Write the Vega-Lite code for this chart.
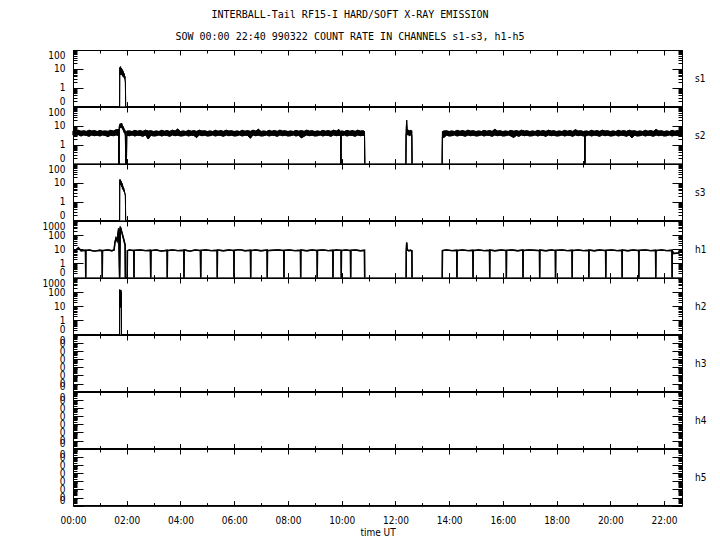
{
  "$schema": "https://vega.github.io/schema/vega-lite/v6.json",
  "background": "white",
  "padding": {"left": 41, "top": 10, "right": 5, "bottom": 5},
  "title": {"text": ["INTERBALL-Tail RF15-I HARD/SOFT X-RAY EMISSION", "SOW 00:00 22:40 990322  COUNT RATE IN CHANNELS s1-s3, h1-h5"], "font": "DejaVu Sans Mono", "fontSize": 10, "fontWeight": "normal", "lineHeight": 22, "anchor": "middle", "offset": 4, "dx": -24, "color": "black"},
  "spacing": 0,
  "bounds": "flush",
  "datasets": {
    "s1": [{"t":0,"v":0.1},{"t":1.735,"v":0.1},{"t":1.74,"v":6},{"t":1.75,"v":12},{"t":1.76,"v":5},{"t":1.77,"v":13},{"t":1.78,"v":6},{"t":1.79,"v":11},{"t":1.8,"v":5},{"t":1.81,"v":10},{"t":1.82,"v":5},{"t":1.83,"v":9},{"t":1.84,"v":4.5},{"t":1.85,"v":8},{"t":1.86,"v":4},{"t":1.87,"v":7},{"t":1.88,"v":4},{"t":1.89,"v":6},{"t":1.9,"v":3.5},{"t":1.91,"v":5},{"t":1.92,"v":3},{"t":1.93,"v":4},{"t":1.94,"v":2.5},{"t":1.95,"v":2},{"t":1.96,"v":0.1},{"t":22.667,"v":0.1}],
    "s2": [
      {"t":0.0,"lo":3.2,"hi":5.4,"g":1},{"t":0.1,"lo":3.0,"hi":5.0,"g":1},{"t":0.2,"lo":3.4,"hi":5.8,"g":1},{"t":0.3,"lo":2.9,"hi":5.2,"g":1},{"t":0.4,"lo":3.3,"hi":5.5,"g":1},{"t":0.5,"lo":3.1,"hi":5.1,"g":1},{"t":0.6,"lo":2.8,"hi":5.9,"g":1},{"t":0.7,"lo":3.3,"hi":5.3,"g":1},{"t":0.8,"lo":3.0,"hi":5.6,"g":1},{"t":0.9,"lo":3.2,"hi":5.0,"g":1},{"t":1.0,"lo":2.9,"hi":5.7,"g":1},{"t":1.1,"lo":3.3,"hi":5.2,"g":1},{"t":1.2,"lo":3.1,"hi":5.4,"g":1},{"t":1.3,"lo":2.7,"hi":5.1,"g":1},{"t":1.4,"lo":3.2,"hi":5.8,"g":1},{"t":1.5,"lo":3.0,"hi":5.3,"g":1},{"t":1.6,"lo":3.3,"hi":6.2,"g":1},{"t":1.7,"lo":3.1,"hi":6.5,"g":1},
      {"t":1.71,"lo":0.1,"hi":0.1,"g":1},{"t":1.72,"lo":6,"hi":9,"g":1},{"t":1.75,"lo":9,"hi":13,"g":1},{"t":1.78,"lo":8,"hi":12,"g":1},{"t":1.81,"lo":9,"hi":14,"g":1},{"t":1.84,"lo":7,"hi":10,"g":1},{"t":1.87,"lo":6,"hi":9,"g":1},{"t":1.9,"lo":4.5,"hi":7,"g":1},{"t":1.93,"lo":4,"hi":6,"g":1},{"t":1.95,"lo":3,"hi":5,"g":1},{"t":1.96,"lo":0.1,"hi":0.1,"g":1},{"t":1.99,"lo":0.1,"hi":0.1,"g":1},{"t":2.0,"lo":3.2,"hi":5.3,"g":1},
      {"t":2.1,"lo":3.0,"hi":5.4,"g":1},{"t":2.2,"lo":3.3,"hi":5.0,"g":1},{"t":2.3,"lo":2.9,"hi":5.8,"g":1},{"t":2.4,"lo":3.2,"hi":5.2,"g":1},{"t":2.5,"lo":3.1,"hi":5.6,"g":1},{"t":2.6,"lo":2.8,"hi":5.1,"g":1},{"t":2.7,"lo":3.3,"hi":5.9,"g":1},{"t":2.8,"lo":2.0,"hi":5.3,"g":1},{"t":2.9,"lo":3.2,"hi":5.5,"g":1},{"t":3.0,"lo":2.9,"hi":5.0,"g":1},
      {"t":3.1,"lo":3.0,"hi":5.4,"g":1},{"t":3.2,"lo":3.3,"hi":5.0,"g":1},{"t":3.3,"lo":2.9,"hi":5.8,"g":1},{"t":3.4,"lo":3.2,"hi":5.2,"g":1},{"t":3.5,"lo":3.1,"hi":5.6,"g":1},{"t":3.6,"lo":2.8,"hi":5.1,"g":1},{"t":3.7,"lo":3.3,"hi":5.9,"g":1},{"t":3.8,"lo":3.0,"hi":5.3,"g":1},{"t":3.9,"lo":3.2,"hi":6.8,"g":1},{"t":4.0,"lo":2.9,"hi":5.0,"g":1},
      {"t":4.1,"lo":3.0,"hi":5.4,"g":1},{"t":4.2,"lo":3.3,"hi":5.0,"g":1},{"t":4.3,"lo":2.9,"hi":5.8,"g":1},{"t":4.4,"lo":3.2,"hi":5.2,"g":1},{"t":4.5,"lo":3.1,"hi":5.6,"g":1},{"t":4.6,"lo":2.4,"hi":5.1,"g":1},{"t":4.7,"lo":3.3,"hi":5.9,"g":1},{"t":4.8,"lo":3.0,"hi":5.3,"g":1},{"t":4.9,"lo":3.2,"hi":5.5,"g":1},{"t":5.0,"lo":2.9,"hi":5.0,"g":1},
      {"t":5.1,"lo":3.0,"hi":5.4,"g":1},{"t":5.2,"lo":3.3,"hi":5.0,"g":1},{"t":5.3,"lo":2.9,"hi":5.8,"g":1},{"t":5.4,"lo":3.2,"hi":5.2,"g":1},{"t":5.5,"lo":3.1,"hi":5.6,"g":1},{"t":5.6,"lo":2.8,"hi":5.1,"g":1},{"t":5.7,"lo":3.3,"hi":5.9,"g":1},{"t":5.8,"lo":3.0,"hi":5.3,"g":1},{"t":5.9,"lo":3.2,"hi":5.5,"g":1},{"t":6.0,"lo":2.9,"hi":5.0,"g":1},
      {"t":6.1,"lo":3.0,"hi":5.4,"g":1},{"t":6.2,"lo":3.3,"hi":5.0,"g":1},{"t":6.3,"lo":2.9,"hi":5.8,"g":1},{"t":6.4,"lo":3.2,"hi":5.2,"g":1},{"t":6.5,"lo":3.1,"hi":5.6,"g":1},{"t":6.6,"lo":2.2,"hi":5.1,"g":1},{"t":6.7,"lo":3.3,"hi":5.9,"g":1},{"t":6.8,"lo":3.0,"hi":5.3,"g":1},{"t":6.9,"lo":3.2,"hi":6.6,"g":1},{"t":7.0,"lo":2.9,"hi":5.0,"g":1},
      {"t":7.1,"lo":3.0,"hi":5.4,"g":1},{"t":7.2,"lo":3.3,"hi":5.0,"g":1},{"t":7.3,"lo":2.9,"hi":5.8,"g":1},{"t":7.4,"lo":3.2,"hi":5.2,"g":1},{"t":7.5,"lo":3.1,"hi":5.6,"g":1},{"t":7.6,"lo":2.8,"hi":5.1,"g":1},{"t":7.7,"lo":3.3,"hi":5.9,"g":1},{"t":7.8,"lo":3.0,"hi":5.3,"g":1},{"t":7.9,"lo":3.2,"hi":5.5,"g":1},{"t":8.0,"lo":2.9,"hi":5.0,"g":1},
      {"t":8.1,"lo":3.0,"hi":5.4,"g":1},{"t":8.2,"lo":3.3,"hi":5.0,"g":1},{"t":8.3,"lo":2.9,"hi":5.8,"g":1},{"t":8.4,"lo":3.2,"hi":5.2,"g":1},{"t":8.5,"lo":2.3,"hi":5.6,"g":1},{"t":8.6,"lo":2.8,"hi":5.1,"g":1},{"t":8.7,"lo":3.3,"hi":5.9,"g":1},{"t":8.8,"lo":3.0,"hi":5.3,"g":1},{"t":8.9,"lo":3.2,"hi":5.5,"g":1},{"t":9.0,"lo":2.9,"hi":5.0,"g":1},
      {"t":9.1,"lo":3.0,"hi":5.4,"g":1},{"t":9.2,"lo":3.3,"hi":5.0,"g":1},{"t":9.3,"lo":2.9,"hi":5.8,"g":1},{"t":9.4,"lo":3.2,"hi":5.2,"g":1},{"t":9.5,"lo":3.1,"hi":5.6,"g":1},{"t":9.6,"lo":2.8,"hi":5.1,"g":1},{"t":9.7,"lo":3.3,"hi":5.9,"g":1},{"t":9.8,"lo":3.0,"hi":5.3,"g":1},{"t":9.9,"lo":3.2,"hi":6.4,"g":1},{"t":9.96,"lo":2.9,"hi":5.0,"g":1},{"t":9.97,"lo":0.1,"hi":0.1,"g":1},{"t":9.98,"lo":3.1,"hi":5.2,"g":1},
      {"t":10.0,"lo":3.0,"hi":5.4,"g":1},{"t":10.1,"lo":3.3,"hi":5.0,"g":1},{"t":10.2,"lo":2.9,"hi":5.8,"g":1},{"t":10.3,"lo":3.2,"hi":5.2,"g":1},{"t":10.4,"lo":3.1,"hi":5.6,"g":1},{"t":10.5,"lo":2.8,"hi":5.1,"g":1},{"t":10.6,"lo":3.3,"hi":5.9,"g":1},{"t":10.7,"lo":3.0,"hi":5.3,"g":1},{"t":10.8,"lo":3.2,"hi":5.5,"g":1},{"t":10.85,"lo":2.9,"hi":5.0,"g":1},{"t":10.86,"lo":0.1,"hi":0.1,"g":1},
      {"t":12.39,"lo":0.1,"hi":0.1,"g":2},{"t":12.4,"lo":3.5,"hi":6,"g":2},{"t":12.42,"lo":5,"hi":20,"g":2},{"t":12.44,"lo":3.5,"hi":7,"g":2},{"t":12.47,"lo":3.2,"hi":5.5,"g":2},{"t":12.5,"lo":3.4,"hi":6,"g":2},{"t":12.53,"lo":3.0,"hi":5.2,"g":2},{"t":12.56,"lo":3.3,"hi":5.8,"g":2},{"t":12.59,"lo":3.1,"hi":5.4,"g":2},{"t":12.61,"lo":3.2,"hi":5.6,"g":2},{"t":12.62,"lo":0.1,"hi":0.1,"g":2},
      {"t":13.74,"lo":0.1,"hi":0.1,"g":3},{"t":13.75,"lo":2.5,"hi":5.0,"g":3},{"t":13.8,"lo":2.4,"hi":5.3,"g":3},{"t":13.9,"lo":3.2,"hi":5.5,"g":3},{"t":14.0,"lo":2.9,"hi":5.0,"g":3},
      {"t":14.1,"lo":3.0,"hi":5.4,"g":3},{"t":14.2,"lo":3.3,"hi":5.0,"g":3},{"t":14.3,"lo":2.9,"hi":5.8,"g":3},{"t":14.4,"lo":3.2,"hi":5.2,"g":3},{"t":14.5,"lo":3.1,"hi":5.6,"g":3},{"t":14.6,"lo":2.8,"hi":5.1,"g":3},{"t":14.7,"lo":3.3,"hi":5.9,"g":3},{"t":14.8,"lo":3.0,"hi":5.3,"g":3},{"t":14.9,"lo":3.2,"hi":5.5,"g":3},{"t":15.0,"lo":2.9,"hi":5.0,"g":3},
      {"t":15.1,"lo":3.0,"hi":5.4,"g":3},{"t":15.2,"lo":3.3,"hi":5.0,"g":3},{"t":15.3,"lo":2.9,"hi":5.8,"g":3},{"t":15.4,"lo":3.2,"hi":5.2,"g":3},{"t":15.5,"lo":3.1,"hi":5.6,"g":3},{"t":15.6,"lo":2.8,"hi":5.1,"g":3},{"t":15.7,"lo":3.3,"hi":6.6,"g":3},{"t":15.8,"lo":3.0,"hi":5.3,"g":3},{"t":15.9,"lo":3.2,"hi":5.5,"g":3},{"t":16.0,"lo":2.9,"hi":5.0,"g":3},
      {"t":16.1,"lo":3.0,"hi":5.4,"g":3},{"t":16.2,"lo":3.3,"hi":5.0,"g":3},{"t":16.3,"lo":2.9,"hi":5.8,"g":3},{"t":16.4,"lo":2.4,"hi":5.2,"g":3},{"t":16.5,"lo":3.1,"hi":5.6,"g":3},{"t":16.6,"lo":2.8,"hi":5.1,"g":3},{"t":16.7,"lo":3.3,"hi":5.9,"g":3},{"t":16.8,"lo":3.0,"hi":5.3,"g":3},{"t":16.9,"lo":3.2,"hi":5.5,"g":3},{"t":17.0,"lo":2.9,"hi":5.0,"g":3},
      {"t":17.1,"lo":3.0,"hi":5.4,"g":3},{"t":17.2,"lo":3.3,"hi":5.0,"g":3},{"t":17.3,"lo":2.9,"hi":5.8,"g":3},{"t":17.4,"lo":3.2,"hi":5.2,"g":3},{"t":17.5,"lo":3.1,"hi":5.6,"g":3},{"t":17.6,"lo":2.8,"hi":5.1,"g":3},{"t":17.7,"lo":3.3,"hi":5.9,"g":3},{"t":17.8,"lo":3.0,"hi":5.3,"g":3},{"t":17.9,"lo":3.2,"hi":5.5,"g":3},{"t":18.0,"lo":2.9,"hi":5.0,"g":3},
      {"t":18.1,"lo":3.0,"hi":5.4,"g":3},{"t":18.2,"lo":3.3,"hi":5.0,"g":3},{"t":18.3,"lo":2.9,"hi":5.8,"g":3},{"t":18.4,"lo":3.2,"hi":5.2,"g":3},{"t":18.5,"lo":3.1,"hi":5.6,"g":3},{"t":18.6,"lo":2.8,"hi":5.1,"g":3},{"t":18.7,"lo":3.3,"hi":6.3,"g":3},{"t":18.8,"lo":3.0,"hi":5.3,"g":3},{"t":18.9,"lo":3.2,"hi":5.5,"g":3},{"t":19.0,"lo":2.9,"hi":5.0,"g":3},{"t":19.04,"lo":3.1,"hi":5.3,"g":3},{"t":19.05,"lo":0.1,"hi":0.1,"g":3},{"t":19.06,"lo":3.0,"hi":5.2,"g":3},
      {"t":19.1,"lo":3.0,"hi":5.4,"g":3},{"t":19.2,"lo":3.3,"hi":5.0,"g":3},{"t":19.3,"lo":2.9,"hi":5.8,"g":3},{"t":19.4,"lo":3.2,"hi":5.2,"g":3},{"t":19.5,"lo":3.1,"hi":5.6,"g":3},{"t":19.6,"lo":2.8,"hi":5.1,"g":3},{"t":19.7,"lo":3.3,"hi":5.9,"g":3},{"t":19.8,"lo":3.0,"hi":5.3,"g":3},{"t":19.9,"lo":3.2,"hi":5.5,"g":3},{"t":20.0,"lo":2.9,"hi":5.0,"g":3},
      {"t":20.1,"lo":3.0,"hi":5.4,"g":3},{"t":20.2,"lo":3.3,"hi":5.0,"g":3},{"t":20.3,"lo":2.9,"hi":5.8,"g":3},{"t":20.4,"lo":3.2,"hi":5.2,"g":3},{"t":20.5,"lo":3.1,"hi":5.6,"g":3},{"t":20.6,"lo":2.8,"hi":5.1,"g":3},{"t":20.7,"lo":3.3,"hi":5.9,"g":3},{"t":20.8,"lo":2.3,"hi":5.3,"g":3},{"t":20.9,"lo":3.2,"hi":5.5,"g":3},{"t":21.0,"lo":2.9,"hi":5.0,"g":3},
      {"t":21.1,"lo":3.0,"hi":5.4,"g":3},{"t":21.2,"lo":3.3,"hi":5.0,"g":3},{"t":21.3,"lo":2.9,"hi":5.8,"g":3},{"t":21.4,"lo":3.2,"hi":5.2,"g":3},{"t":21.5,"lo":3.1,"hi":5.6,"g":3},{"t":21.6,"lo":2.8,"hi":5.1,"g":3},{"t":21.7,"lo":3.3,"hi":6.5,"g":3},{"t":21.8,"lo":3.0,"hi":5.3,"g":3},{"t":21.9,"lo":3.2,"hi":5.5,"g":3},{"t":22.0,"lo":2.9,"hi":5.0,"g":3},
      {"t":22.1,"lo":3.0,"hi":5.4,"g":3},{"t":22.2,"lo":3.3,"hi":5.0,"g":3},{"t":22.3,"lo":2.9,"hi":5.8,"g":3},{"t":22.4,"lo":3.2,"hi":5.2,"g":3},{"t":22.5,"lo":3.1,"hi":5.6,"g":3},{"t":22.6,"lo":2.8,"hi":5.1,"g":3},{"t":22.667,"lo":3.2,"hi":5.6,"g":3}
    ],
    "s3": [{"t":0,"v":0.1},{"t":1.735,"v":0.1},{"t":1.74,"v":10},{"t":1.75,"v":15},{"t":1.76,"v":9},{"t":1.77,"v":14},{"t":1.78,"v":8},{"t":1.79,"v":12},{"t":1.8,"v":7},{"t":1.81,"v":10},{"t":1.82,"v":6},{"t":1.83,"v":9},{"t":1.84,"v":5},{"t":1.85,"v":7},{"t":1.86,"v":4.5},{"t":1.87,"v":6},{"t":1.88,"v":4},{"t":1.89,"v":5},{"t":1.9,"v":3.5},{"t":1.91,"v":4},{"t":1.92,"v":3},{"t":1.93,"v":3},{"t":1.94,"v":2.5},{"t":1.95,"v":2},{"t":1.96,"v":0.1},{"t":22.667,"v":0.1}],
    "h1": [
      {"t":0.0,"v":8,"g":1},{"t":0.1,"v":8.5,"g":1},{"t":0.2,"v":13,"g":1},{"t":0.3,"v":8,"g":1},{"t":0.466,"v":8.5,"g":1},{"t":0.473,"v":0.1,"g":1},{"t":0.48,"v":8,"g":1},{"t":0.6,"v":9,"g":1},{"t":0.8,"v":7.5,"g":1},{"t":1.0,"v":8.5,"g":1},{"t":1.083,"v":8,"g":1},{"t":1.09,"v":0.1,"g":1},{"t":1.097,"v":8,"g":1},{"t":1.3,"v":9,"g":1},{"t":1.45,"v":8,"g":1},{"t":1.53,"v":9,"g":1},{"t":1.56,"v":30,"g":1},{"t":1.6,"v":60,"g":1},{"t":1.64,"v":40,"g":1},{"t":1.67,"v":110,"g":1},{"t":1.7,"v":300,"g":1},{"t":1.735,"v":0.1,"g":1},{"t":1.76,"v":400,"g":1},{"t":1.79,"v":250,"g":1},{"t":1.82,"v":150,"g":1},{"t":1.86,"v":80,"g":1},{"t":1.9,"v":40,"g":1},{"t":1.94,"v":20,"g":1},{"t":1.95,"v":0.1,"g":1},{"t":2.02,"v":0.1,"g":1},{"t":2.025,"v":8,"g":1},{"t":2.1,"v":9,"g":1},{"t":2.263,"v":8,"g":1},{"t":2.27,"v":0.1,"g":1},{"t":2.277,"v":8.5,"g":1},{"t":2.5,"v":9,"g":1},{"t":2.7,"v":8,"g":1},{"t":2.882,"v":8.5,"g":1},{"t":2.892,"v":0.1,"g":1},{"t":2.902,"v":8,"g":1},{"t":3.1,"v":9,"g":1},{"t":3.3,"v":7.5,"g":1},{"t":3.502,"v":8.5,"g":1},{"t":3.509,"v":0.1,"g":1},{"t":3.516,"v":8,"g":1},{"t":3.7,"v":9,"g":1},{"t":3.9,"v":8,"g":1},{"t":4.124,"v":8.5,"g":1},{"t":4.131,"v":0.1,"g":1},{"t":4.138,"v":9,"g":1},{"t":4.35,"v":7.5,"g":1},{"t":4.55,"v":9,"g":1},{"t":4.743,"v":8,"g":1},{"t":4.753,"v":0.1,"g":1},{"t":4.763,"v":8.5,"g":1},{"t":4.95,"v":9,"g":1},{"t":5.15,"v":8,"g":1},{"t":5.363,"v":8.5,"g":1},{"t":5.37,"v":0.1,"g":1},{"t":5.377,"v":9,"g":1},{"t":5.6,"v":8,"g":1},{"t":5.8,"v":9,"g":1},{"t":5.985,"v":8,"g":1},{"t":5.992,"v":0.1,"g":1},{"t":5.999,"v":8.5,"g":1},{"t":6.2,"v":9.5,"g":1},{"t":6.4,"v":8,"g":1},{"t":6.606,"v":8.5,"g":1},{"t":6.613,"v":0.1,"g":1},{"t":6.62,"v":8,"g":1},{"t":6.8,"v":9,"g":1},{"t":7.0,"v":8,"g":1},{"t":7.224,"v":9,"g":1},{"t":7.231,"v":0.1,"g":1},{"t":7.238,"v":8,"g":1},{"t":7.45,"v":8.5,"g":1},{"t":7.65,"v":9,"g":1},{"t":7.845,"v":8,"g":1},{"t":7.852,"v":0.1,"g":1},{"t":7.859,"v":8.5,"g":1},{"t":8.05,"v":9,"g":1},{"t":8.25,"v":8,"g":1},{"t":8.467,"v":8.5,"g":1},{"t":8.474,"v":0.1,"g":1},{"t":8.481,"v":9,"g":1},{"t":8.7,"v":8,"g":1},{"t":8.9,"v":9,"g":1},{"t":9.085,"v":8,"g":1},{"t":9.092,"v":0.1,"g":1},{"t":9.099,"v":8.5,"g":1},{"t":9.3,"v":9,"g":1},{"t":9.5,"v":8,"g":1},{"t":9.669,"v":8.5,"g":1},{"t":9.676,"v":0.1,"g":1},{"t":9.683,"v":8,"g":1},{"t":9.8,"v":9,"g":1},{"t":9.978,"v":8.5,"g":1},{"t":9.985,"v":0.1,"g":1},{"t":9.992,"v":8,"g":1},{"t":10.15,"v":9,"g":1},{"t":10.328,"v":8,"g":1},{"t":10.335,"v":0.1,"g":1},{"t":10.342,"v":8.5,"g":1},{"t":10.5,"v":9,"g":1},{"t":10.7,"v":8,"g":1},{"t":10.849,"v":8.5,"g":1},{"t":10.856,"v":0.1,"g":1},
      {"t":12.4,"v":0.1,"g":2},{"t":12.405,"v":8,"g":2},{"t":12.42,"v":30,"g":2},{"t":12.44,"v":9,"g":2},{"t":12.5,"v":8,"g":2},{"t":12.56,"v":8.5,"g":2},{"t":12.613,"v":8,"g":2},{"t":12.62,"v":0.1,"g":2},
      {"t":13.744,"v":0.1,"g":3},{"t":13.751,"v":8,"g":3},{"t":13.9,"v":9,"g":3},{"t":14.1,"v":8,"g":3},{"t":14.283,"v":8.5,"g":3},{"t":14.29,"v":0.1,"g":3},{"t":14.297,"v":8,"g":3},{"t":14.5,"v":9,"g":3},{"t":14.7,"v":8,"g":3},{"t":14.883,"v":8.5,"g":3},{"t":14.89,"v":0.1,"g":3},{"t":14.897,"v":8,"g":3},{"t":15.1,"v":9,"g":3},{"t":15.3,"v":8,"g":3},{"t":15.503,"v":8.5,"g":3},{"t":15.51,"v":0.1,"g":3},{"t":15.517,"v":9,"g":3},{"t":15.7,"v":8,"g":3},{"t":15.95,"v":9,"g":3},{"t":16.123,"v":8,"g":3},{"t":16.13,"v":0.1,"g":3},{"t":16.137,"v":8.5,"g":3},{"t":16.35,"v":9,"g":3},{"t":16.55,"v":8,"g":3},{"t":16.743,"v":9,"g":3},{"t":16.75,"v":0.1,"g":3},{"t":16.757,"v":8,"g":3},{"t":16.95,"v":9,"g":3},{"t":17.15,"v":8.5,"g":3},{"t":17.363,"v":8,"g":3},{"t":17.37,"v":0.1,"g":3},{"t":17.377,"v":9,"g":3},{"t":17.6,"v":8,"g":3},{"t":17.8,"v":9,"g":3},{"t":17.953,"v":8,"g":3},{"t":17.96,"v":0.1,"g":3},{"t":17.967,"v":8.5,"g":3},{"t":18.2,"v":9,"g":3},{"t":18.4,"v":8,"g":3},{"t":18.573,"v":8.5,"g":3},{"t":18.58,"v":0.1,"g":3},{"t":18.587,"v":8,"g":3},{"t":18.8,"v":9,"g":3},{"t":19.0,"v":8,"g":3},{"t":19.193,"v":8.5,"g":3},{"t":19.2,"v":0.1,"g":3},{"t":19.207,"v":9,"g":3},{"t":19.4,"v":8,"g":3},{"t":19.6,"v":9,"g":3},{"t":19.823,"v":8,"g":3},{"t":19.83,"v":0.1,"g":3},{"t":19.837,"v":8.5,"g":3},{"t":20.05,"v":9,"g":3},{"t":20.25,"v":8,"g":3},{"t":20.433,"v":8.5,"g":3},{"t":20.44,"v":0.1,"g":3},{"t":20.447,"v":9,"g":3},{"t":20.65,"v":8,"g":3},{"t":20.85,"v":9,"g":3},{"t":21.053,"v":8,"g":3},{"t":21.06,"v":0.1,"g":3},{"t":21.067,"v":8.5,"g":3},{"t":21.3,"v":9,"g":3},{"t":21.5,"v":8,"g":3},{"t":21.683,"v":8.5,"g":3},{"t":21.69,"v":0.1,"g":3},{"t":21.697,"v":8,"g":3},{"t":21.9,"v":9,"g":3},{"t":22.1,"v":8,"g":3},{"t":22.293,"v":8.5,"g":3},{"t":22.3,"v":0.1,"g":3},{"t":22.307,"v":8,"g":3},{"t":22.35,"v":5,"g":3},{"t":22.55,"v":5.5,"g":3},{"t":22.6,"v":8,"g":3},{"t":22.667,"v":8.5,"g":3}
    ],
    "h2": [{"t":0,"v":0.1},{"t":1.735,"v":0.1},{"t":1.74,"v":150},{"t":1.75,"v":10},{"t":1.76,"v":120},{"t":1.77,"v":12},{"t":1.78,"v":140},{"t":1.79,"v":8},{"t":1.8,"v":100},{"t":1.805,"v":0.1},{"t":22.667,"v":0.1}],
    "h3": [{"t":0,"v":0.1},{"t":22.667,"v":0.1}],
    "h4": [{"t":0,"v":0.1},{"t":22.667,"v":0.1}],
    "h5": [{"t":0,"v":0.1},{"t":22.667,"v":0.1}]
  },
  "vconcat": [
    {"width": 609, "height": 56.6, "data": {"name": "s1"},
     "layer": [
      {"mark": {"type": "line", "color": "black", "strokeWidth": 1},
       "encoding": {
        "x": {"field": "t", "type": "quantitative", "scale": {"domain": [0, 22.667], "nice": false, "zero": false}, "axis": {"orient": "bottom", "values": [0,1,2,3,4,5,6,7,8,9,10,11,12,13,14,15,16,17,18,19,20,21,22], "labels": false, "title": null, "tickSize": {"condition": {"test": "datum.value % 2 == 0", "value": -5}, "value": -3}}},
        "y": {"field": "v", "type": "quantitative", "scale": {"type": "log", "domain": [0.1, 100], "nice": false}, "axis": {"orient": "left", "title": null, "values": [0.1,0.2,0.3,0.4,0.5,0.6,0.7,0.8,0.9,1,2,3,4,5,6,7,8,9,10,20,30,40,50,60,70,80,90,100], "labelFlush": true, "labelPadding": 18, "labelExpr": "abs(log(datum.value)/LN10 - round(log(datum.value)/LN10)) < 0.01 ? (datum.value < 0.5 ? '0' : format(datum.value, 'd')) : ''", "tickSize": {"condition": {"test": "abs(log(datum.value)/LN10 - round(log(datum.value)/LN10)) < 0.01", "value": -10}, "value": -4}}}
       }},
      {"mark": {"type": "line", "color": "black", "strokeWidth": 1},
       "encoding": {
        "x": {"field": "t", "type": "quantitative", "axis": {"orient": "top", "values": [0,1,2,3,4,5,6,7,8,9,10,11,12,13,14,15,16,17,18,19,20,21,22], "labels": false, "title": null, "tickSize": {"condition": {"test": "datum.value % 2 == 0", "value": -5}, "value": -3}}},
        "y": {"field": "v", "type": "quantitative", "axis": {"orient": "right", "values": [0.1,0.2,0.3,0.4,0.5,0.6,0.7,0.8,0.9,1,2,3,4,5,6,7,8,9,10,20,30,40,50,60,70,80,90,100], "labels": false, "title": "s1", "titleAngle": 0, "titleAlign": "left", "titleBaseline": "middle", "titlePadding": 12, "tickSize": {"condition": {"test": "abs(log(datum.value)/LN10 - round(log(datum.value)/LN10)) < 0.01", "value": -10}, "value": -4}}}
       }}
     ],
     "resolve": {"axis": {"x": "independent", "y": "independent"}}
    },
    {"width": 609, "height": 56.6, "data": {"name": "s2"},
     "layer": [
      {"mark": {"type": "area", "color": "black", "stroke": "black", "strokeWidth": 0.8},
       "encoding": {
        "x": {"field": "t", "type": "quantitative", "scale": {"domain": [0, 22.667], "nice": false, "zero": false}, "axis": {"orient": "bottom", "values": [0,1,2,3,4,5,6,7,8,9,10,11,12,13,14,15,16,17,18,19,20,21,22], "labels": false, "title": null, "tickSize": {"condition": {"test": "datum.value % 2 == 0", "value": -5}, "value": -3}}},
        "y": {"field": "hi", "type": "quantitative", "scale": {"type": "log", "domain": [0.1, 100], "nice": false}, "axis": {"orient": "left", "title": null, "values": [0.1,0.2,0.3,0.4,0.5,0.6,0.7,0.8,0.9,1,2,3,4,5,6,7,8,9,10,20,30,40,50,60,70,80,90,100], "labelFlush": true, "labelPadding": 18, "labelExpr": "abs(log(datum.value)/LN10 - round(log(datum.value)/LN10)) < 0.01 ? (datum.value < 0.5 ? '0' : format(datum.value, 'd')) : ''", "tickSize": {"condition": {"test": "abs(log(datum.value)/LN10 - round(log(datum.value)/LN10)) < 0.01", "value": -10}, "value": -4}}},
        "y2": {"field": "lo"},
        "detail": {"field": "g"}
       }},
      {"mark": {"type": "area", "color": "black", "stroke": "black", "strokeWidth": 0.8},
       "encoding": {
        "x": {"field": "t", "type": "quantitative", "axis": {"orient": "top", "values": [0,1,2,3,4,5,6,7,8,9,10,11,12,13,14,15,16,17,18,19,20,21,22], "labels": false, "title": null, "tickSize": {"condition": {"test": "datum.value % 2 == 0", "value": -5}, "value": -3}}},
        "y": {"field": "hi", "type": "quantitative", "axis": {"orient": "right", "values": [0.1,0.2,0.3,0.4,0.5,0.6,0.7,0.8,0.9,1,2,3,4,5,6,7,8,9,10,20,30,40,50,60,70,80,90,100], "labels": false, "title": "s2", "titleAngle": 0, "titleAlign": "left", "titleBaseline": "middle", "titlePadding": 12, "tickSize": {"condition": {"test": "abs(log(datum.value)/LN10 - round(log(datum.value)/LN10)) < 0.01", "value": -10}, "value": -4}}},
        "y2": {"field": "lo"},
        "detail": {"field": "g"}
       }}
     ],
     "resolve": {"axis": {"x": "independent", "y": "independent"}}
    },
    {"width": 609, "height": 56.6, "data": {"name": "s3"},
     "layer": [
      {"mark": {"type": "line", "color": "black", "strokeWidth": 1},
       "encoding": {
        "x": {"field": "t", "type": "quantitative", "scale": {"domain": [0, 22.667], "nice": false, "zero": false}, "axis": {"orient": "bottom", "values": [0,1,2,3,4,5,6,7,8,9,10,11,12,13,14,15,16,17,18,19,20,21,22], "labels": false, "title": null, "tickSize": {"condition": {"test": "datum.value % 2 == 0", "value": -5}, "value": -3}}},
        "y": {"field": "v", "type": "quantitative", "scale": {"type": "log", "domain": [0.1, 100], "nice": false}, "axis": {"orient": "left", "title": null, "values": [0.1,0.2,0.3,0.4,0.5,0.6,0.7,0.8,0.9,1,2,3,4,5,6,7,8,9,10,20,30,40,50,60,70,80,90,100], "labelFlush": true, "labelPadding": 18, "labelExpr": "abs(log(datum.value)/LN10 - round(log(datum.value)/LN10)) < 0.01 ? (datum.value < 0.5 ? '0' : format(datum.value, 'd')) : ''", "tickSize": {"condition": {"test": "abs(log(datum.value)/LN10 - round(log(datum.value)/LN10)) < 0.01", "value": -10}, "value": -4}}}
       }},
      {"mark": {"type": "line", "color": "black", "strokeWidth": 1},
       "encoding": {
        "x": {"field": "t", "type": "quantitative", "axis": {"orient": "top", "values": [0,1,2,3,4,5,6,7,8,9,10,11,12,13,14,15,16,17,18,19,20,21,22], "labels": false, "title": null, "tickSize": {"condition": {"test": "datum.value % 2 == 0", "value": -5}, "value": -3}}},
        "y": {"field": "v", "type": "quantitative", "axis": {"orient": "right", "values": [0.1,0.2,0.3,0.4,0.5,0.6,0.7,0.8,0.9,1,2,3,4,5,6,7,8,9,10,20,30,40,50,60,70,80,90,100], "labels": false, "title": "s3", "titleAngle": 0, "titleAlign": "left", "titleBaseline": "middle", "titlePadding": 12, "tickSize": {"condition": {"test": "abs(log(datum.value)/LN10 - round(log(datum.value)/LN10)) < 0.01", "value": -10}, "value": -4}}}
       }}
     ],
     "resolve": {"axis": {"x": "independent", "y": "independent"}}
    },
    {"width": 609, "height": 56.6, "data": {"name": "h1"},
     "layer": [
      {"mark": {"type": "line", "color": "black", "strokeWidth": 1.4},
       "encoding": {
        "x": {"field": "t", "type": "quantitative", "scale": {"domain": [0, 22.667], "nice": false, "zero": false}, "axis": {"orient": "bottom", "values": [0,1,2,3,4,5,6,7,8,9,10,11,12,13,14,15,16,17,18,19,20,21,22], "labels": false, "title": null, "tickSize": {"condition": {"test": "datum.value % 2 == 0", "value": -5}, "value": -3}}},
        "y": {"field": "v", "type": "quantitative", "scale": {"type": "log", "domain": [0.1, 1000], "nice": false}, "axis": {"orient": "left", "title": null, "values": [0.1,0.2,0.3,0.4,0.5,0.6,0.7,0.8,0.9,1,2,3,4,5,6,7,8,9,10,20,30,40,50,60,70,80,90,100,200,300,400,500,600,700,800,900,1000], "labelFlush": true, "labelPadding": 18, "labelExpr": "abs(log(datum.value)/LN10 - round(log(datum.value)/LN10)) < 0.01 ? (datum.value < 0.5 ? '0' : format(datum.value, 'd')) : ''", "tickSize": {"condition": {"test": "abs(log(datum.value)/LN10 - round(log(datum.value)/LN10)) < 0.01", "value": -10}, "value": -4}}},
        "detail": {"field": "g"}
       }},
      {"mark": {"type": "line", "color": "black", "strokeWidth": 1.4},
       "encoding": {
        "x": {"field": "t", "type": "quantitative", "axis": {"orient": "top", "values": [0,1,2,3,4,5,6,7,8,9,10,11,12,13,14,15,16,17,18,19,20,21,22], "labels": false, "title": null, "tickSize": {"condition": {"test": "datum.value % 2 == 0", "value": -5}, "value": -3}}},
        "y": {"field": "v", "type": "quantitative", "axis": {"orient": "right", "values": [0.1,0.2,0.3,0.4,0.5,0.6,0.7,0.8,0.9,1,2,3,4,5,6,7,8,9,10,20,30,40,50,60,70,80,90,100,200,300,400,500,600,700,800,900,1000], "labels": false, "title": "h1", "titleAngle": 0, "titleAlign": "left", "titleBaseline": "middle", "titlePadding": 12, "tickSize": {"condition": {"test": "abs(log(datum.value)/LN10 - round(log(datum.value)/LN10)) < 0.01", "value": -10}, "value": -4}}},
        "detail": {"field": "g"}
       }}
     ],
     "resolve": {"axis": {"x": "independent", "y": "independent"}}
    },
    {"width": 609, "height": 56.6, "data": {"name": "h2"},
     "layer": [
      {"mark": {"type": "line", "color": "black", "strokeWidth": 1},
       "encoding": {
        "x": {"field": "t", "type": "quantitative", "scale": {"domain": [0, 22.667], "nice": false, "zero": false}, "axis": {"orient": "bottom", "values": [0,1,2,3,4,5,6,7,8,9,10,11,12,13,14,15,16,17,18,19,20,21,22], "labels": false, "title": null, "tickSize": {"condition": {"test": "datum.value % 2 == 0", "value": -5}, "value": -3}}},
        "y": {"field": "v", "type": "quantitative", "scale": {"type": "log", "domain": [0.1, 1000], "nice": false}, "axis": {"orient": "left", "title": null, "values": [0.1,0.2,0.3,0.4,0.5,0.6,0.7,0.8,0.9,1,2,3,4,5,6,7,8,9,10,20,30,40,50,60,70,80,90,100,200,300,400,500,600,700,800,900,1000], "labelFlush": true, "labelPadding": 18, "labelExpr": "abs(log(datum.value)/LN10 - round(log(datum.value)/LN10)) < 0.01 ? (datum.value < 0.5 ? '0' : format(datum.value, 'd')) : ''", "tickSize": {"condition": {"test": "abs(log(datum.value)/LN10 - round(log(datum.value)/LN10)) < 0.01", "value": -10}, "value": -4}}}
       }},
      {"mark": {"type": "line", "color": "black", "strokeWidth": 1},
       "encoding": {
        "x": {"field": "t", "type": "quantitative", "axis": {"orient": "top", "values": [0,1,2,3,4,5,6,7,8,9,10,11,12,13,14,15,16,17,18,19,20,21,22], "labels": false, "title": null, "tickSize": {"condition": {"test": "datum.value % 2 == 0", "value": -5}, "value": -3}}},
        "y": {"field": "v", "type": "quantitative", "axis": {"orient": "right", "values": [0.1,0.2,0.3,0.4,0.5,0.6,0.7,0.8,0.9,1,2,3,4,5,6,7,8,9,10,20,30,40,50,60,70,80,90,100,200,300,400,500,600,700,800,900,1000], "labels": false, "title": "h2", "titleAngle": 0, "titleAlign": "left", "titleBaseline": "middle", "titlePadding": 12, "tickSize": {"condition": {"test": "abs(log(datum.value)/LN10 - round(log(datum.value)/LN10)) < 0.01", "value": -10}, "value": -4}}}
       }}
     ],
     "resolve": {"axis": {"x": "independent", "y": "independent"}}
    },
    {"width": 609, "height": 56.6, "data": {"name": "h3"},
     "layer": [
      {"mark": {"type": "line", "color": "black", "strokeWidth": 1},
       "encoding": {
        "x": {"field": "t", "type": "quantitative", "scale": {"domain": [0, 22.667], "nice": false, "zero": false}, "axis": {"orient": "bottom", "values": [0,1,2,3,4,5,6,7,8,9,10,11,12,13,14,15,16,17,18,19,20,21,22], "labels": false, "title": null, "tickSize": {"condition": {"test": "datum.value % 2 == 0", "value": -5}, "value": -3}}},
        "y": {"field": "v", "type": "quantitative", "scale": {"type": "log", "domain": [0.1, 1000000], "nice": false}, "axis": {"orient": "left", "title": null, "values": [0.1,0.2,0.3,0.4,0.5,0.6,0.7,0.8,0.9,1,2,3,4,5,6,7,8,9,10,20,30,40,50,60,70,80,90,100,200,300,400,500,600,700,800,900,1000,2000,3000,4000,5000,6000,7000,8000,9000,10000,20000,30000,40000,50000,60000,70000,80000,90000,100000,200000,300000,400000,500000,600000,700000,800000,900000,1000000], "labelFlush": true, "labelPadding": 18, "labelExpr": "abs(log(datum.value)/LN10 - round(log(datum.value)/LN10)) < 0.01 ? '0' : ''", "tickSize": {"condition": {"test": "abs(log(datum.value)/LN10 - round(log(datum.value)/LN10)) < 0.01", "value": -10}, "value": -4}}}
       }},
      {"mark": {"type": "line", "color": "black", "strokeWidth": 1},
       "encoding": {
        "x": {"field": "t", "type": "quantitative", "axis": {"orient": "top", "values": [0,1,2,3,4,5,6,7,8,9,10,11,12,13,14,15,16,17,18,19,20,21,22], "labels": false, "title": null, "tickSize": {"condition": {"test": "datum.value % 2 == 0", "value": -5}, "value": -3}}},
        "y": {"field": "v", "type": "quantitative", "axis": {"orient": "right", "values": [0.1,0.2,0.3,0.4,0.5,0.6,0.7,0.8,0.9,1,2,3,4,5,6,7,8,9,10,20,30,40,50,60,70,80,90,100,200,300,400,500,600,700,800,900,1000,2000,3000,4000,5000,6000,7000,8000,9000,10000,20000,30000,40000,50000,60000,70000,80000,90000,100000,200000,300000,400000,500000,600000,700000,800000,900000,1000000], "labels": false, "title": "h3", "titleAngle": 0, "titleAlign": "left", "titleBaseline": "middle", "titlePadding": 12, "tickSize": {"condition": {"test": "abs(log(datum.value)/LN10 - round(log(datum.value)/LN10)) < 0.01", "value": -10}, "value": -4}}}
       }}
     ],
     "resolve": {"axis": {"x": "independent", "y": "independent"}}
    },
    {"width": 609, "height": 56.6, "data": {"name": "h4"},
     "layer": [
      {"mark": {"type": "line", "color": "black", "strokeWidth": 1},
       "encoding": {
        "x": {"field": "t", "type": "quantitative", "scale": {"domain": [0, 22.667], "nice": false, "zero": false}, "axis": {"orient": "bottom", "values": [0,1,2,3,4,5,6,7,8,9,10,11,12,13,14,15,16,17,18,19,20,21,22], "labels": false, "title": null, "tickSize": {"condition": {"test": "datum.value % 2 == 0", "value": -5}, "value": -3}}},
        "y": {"field": "v", "type": "quantitative", "scale": {"type": "log", "domain": [0.1, 1000000], "nice": false}, "axis": {"orient": "left", "title": null, "values": [0.1,0.2,0.3,0.4,0.5,0.6,0.7,0.8,0.9,1,2,3,4,5,6,7,8,9,10,20,30,40,50,60,70,80,90,100,200,300,400,500,600,700,800,900,1000,2000,3000,4000,5000,6000,7000,8000,9000,10000,20000,30000,40000,50000,60000,70000,80000,90000,100000,200000,300000,400000,500000,600000,700000,800000,900000,1000000], "labelFlush": true, "labelPadding": 18, "labelExpr": "abs(log(datum.value)/LN10 - round(log(datum.value)/LN10)) < 0.01 ? '0' : ''", "tickSize": {"condition": {"test": "abs(log(datum.value)/LN10 - round(log(datum.value)/LN10)) < 0.01", "value": -10}, "value": -4}}}
       }},
      {"mark": {"type": "line", "color": "black", "strokeWidth": 1},
       "encoding": {
        "x": {"field": "t", "type": "quantitative", "axis": {"orient": "top", "values": [0,1,2,3,4,5,6,7,8,9,10,11,12,13,14,15,16,17,18,19,20,21,22], "labels": false, "title": null, "tickSize": {"condition": {"test": "datum.value % 2 == 0", "value": -5}, "value": -3}}},
        "y": {"field": "v", "type": "quantitative", "axis": {"orient": "right", "values": [0.1,0.2,0.3,0.4,0.5,0.6,0.7,0.8,0.9,1,2,3,4,5,6,7,8,9,10,20,30,40,50,60,70,80,90,100,200,300,400,500,600,700,800,900,1000,2000,3000,4000,5000,6000,7000,8000,9000,10000,20000,30000,40000,50000,60000,70000,80000,90000,100000,200000,300000,400000,500000,600000,700000,800000,900000,1000000], "labels": false, "title": "h4", "titleAngle": 0, "titleAlign": "left", "titleBaseline": "middle", "titlePadding": 12, "tickSize": {"condition": {"test": "abs(log(datum.value)/LN10 - round(log(datum.value)/LN10)) < 0.01", "value": -10}, "value": -4}}}
       }}
     ],
     "resolve": {"axis": {"x": "independent", "y": "independent"}}
    },
    {"width": 609, "height": 56.6, "data": {"name": "h5"},
     "layer": [
      {"mark": {"type": "line", "color": "black", "strokeWidth": 1},
       "encoding": {
        "x": {"field": "t", "type": "quantitative", "scale": {"domain": [0, 22.667], "nice": false, "zero": false}, "axis": {"orient": "bottom", "values": [0,1,2,3,4,5,6,7,8,9,10,11,12,13,14,15,16,17,18,19,20,21,22], "labels": true, "labelFlush": false, "labelExpr": "datum.value % 2 == 0 ? (datum.value < 10 ? '0' : '') + datum.value + ':00' : ''", "labelPadding": 15, "title": "time UT", "titlePadding": 0, "tickSize": {"condition": {"test": "datum.value % 2 == 0", "value": -5}, "value": -3}}},
        "y": {"field": "v", "type": "quantitative", "scale": {"type": "log", "domain": [0.1, 1000000], "nice": false}, "axis": {"orient": "left", "title": null, "values": [0.1,0.2,0.3,0.4,0.5,0.6,0.7,0.8,0.9,1,2,3,4,5,6,7,8,9,10,20,30,40,50,60,70,80,90,100,200,300,400,500,600,700,800,900,1000,2000,3000,4000,5000,6000,7000,8000,9000,10000,20000,30000,40000,50000,60000,70000,80000,90000,100000,200000,300000,400000,500000,600000,700000,800000,900000,1000000], "labelFlush": true, "labelPadding": 18, "labelExpr": "abs(log(datum.value)/LN10 - round(log(datum.value)/LN10)) < 0.01 ? '0' : ''", "tickSize": {"condition": {"test": "abs(log(datum.value)/LN10 - round(log(datum.value)/LN10)) < 0.01", "value": -10}, "value": -4}}}
       }},
      {"mark": {"type": "line", "color": "black", "strokeWidth": 1},
       "encoding": {
        "x": {"field": "t", "type": "quantitative", "axis": {"orient": "top", "values": [0,1,2,3,4,5,6,7,8,9,10,11,12,13,14,15,16,17,18,19,20,21,22], "labels": false, "title": null, "tickSize": {"condition": {"test": "datum.value % 2 == 0", "value": -5}, "value": -3}}},
        "y": {"field": "v", "type": "quantitative", "axis": {"orient": "right", "values": [0.1,0.2,0.3,0.4,0.5,0.6,0.7,0.8,0.9,1,2,3,4,5,6,7,8,9,10,20,30,40,50,60,70,80,90,100,200,300,400,500,600,700,800,900,1000,2000,3000,4000,5000,6000,7000,8000,9000,10000,20000,30000,40000,50000,60000,70000,80000,90000,100000,200000,300000,400000,500000,600000,700000,800000,900000,1000000], "labels": false, "title": "h5", "titleAngle": 0, "titleAlign": "left", "titleBaseline": "middle", "titlePadding": 12, "tickSize": {"condition": {"test": "abs(log(datum.value)/LN10 - round(log(datum.value)/LN10)) < 0.01", "value": -10}, "value": -4}}}
       }}
     ],
     "resolve": {"axis": {"x": "independent", "y": "independent"}}
    }
  ],
  "config": {
    "view": {"stroke": "black", "strokeWidth": 1},
    "axis": {"grid": false, "domainColor": "black", "tickColor": "black", "labelColor": "black", "titleColor": "black", "labelFont": "DejaVu Sans Condensed", "labelFontSize": 10, "titleFont": "DejaVu Sans Condensed", "titleFontSize": 10, "titleFontWeight": "normal", "labelOverlap": false, "tickWidth": 1, "domainWidth": 1}
  }
}
